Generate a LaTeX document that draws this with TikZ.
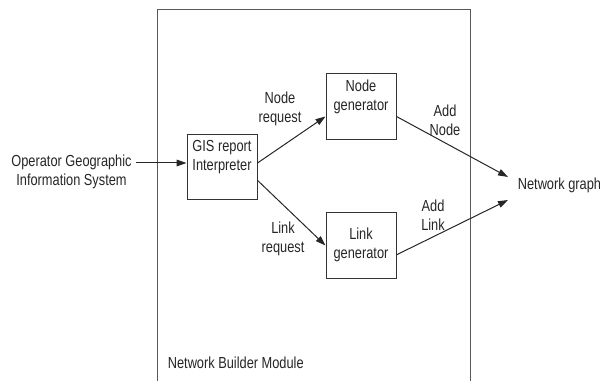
\documentclass[tikz,border=0pt]{standalone}
\usepackage{fontspec}
\setmainfont{Liberation Sans}[FakeStretch=0.8]
\usepackage{tikz}
\usetikzlibrary{arrows.meta}
\usetikzlibrary{positioning}

\begin{document}
\begin{tikzpicture}[
  x=0.75pt,y=-0.75pt,
  -,>={Triangle[length=7.5pt,width=5pt]},line width=0.75pt,
  font=\fontsize{12}{14.25}\selectfont,
  box/.style={draw=black!80,rectangle,minimum width=52.5pt,minimum height=49pt,inner sep=0pt},
  txt/.style={align=center,inner sep=1pt,text=black!85},
  conn/.style={->,draw=black!85},
  frame/.style={draw=black!65}]
      \useasboundingbox (0,0) rectangle (600,381);

      % module frame, open at the bottom
      \draw[frame] (157.7,381) -- (157.7,9.5) -- (470,9.5) -- (470,381);
      \node [txt,anchor=west] (mod) at (166,363) {Network Builder Module};

      % boxes
      \node [box] (gis) at (222,167) {};
      \node [txt] (gist) at (222,156.7) {GIS report\\Interpreter};
      \node [box] (ngen) at (361,106.5) {};
      \node [txt] (ngent) at (361,96.7) {Node\\generator};
      \node [box] (lgen) at (361,245.5) {};
      \node [txt] (lgent) at (361,245) {Link\\generator};

      % outside texts
      \node [txt] (gis0) at (71.5,171.5) {Operator Geographic\\Information System};
      \node [txt,anchor=west] (graph) at (516,185.5) {Network graph};
      \coordinate (in) at (136,163);
      \coordinate (gn) at (508,177);
      \coordinate (gl) at (508,200);

      % labels on connectors
      \node [txt] (nreq) at (280,108.5) {Node\\request};
      \node [txt] (lreq) at (283,238.5) {Link\\request};
      \node [txt] (addn) at (445,120) {Add\\Node};
      \node [txt] (addl) at (433,215.5) {Add\\Link};

      % connectors
      \draw[conn] (in) -- ([yshift=3pt]gis.west);
      \draw[conn] ([yshift=3pt]gis.east) -- ([yshift=-7.5pt]ngen.west);
      \draw[conn] ([yshift=-10pt]gis.east) -- (lgen.west);
      \draw[conn] ([yshift=-7.5pt]ngen.east) -- (gn);
      \draw[conn] ([yshift=-7pt]lgen.east) -- (gl);

  \end{tikzpicture}
\end{document}
